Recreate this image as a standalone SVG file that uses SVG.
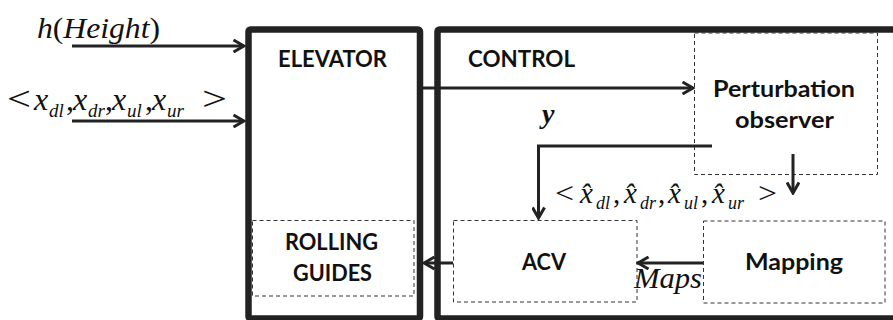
<svg xmlns="http://www.w3.org/2000/svg" width="893" height="320" viewBox="0 0 893 320">
<style>
.box{fill:none;stroke:#222;stroke-width:6.5}
.dash{fill:none;stroke:#333;stroke-width:1;stroke-dasharray:4 3}
.ln{fill:none;stroke:#222;stroke-width:3}
.lbl{font-family:Lato,"Open Sans","Liberation Sans",sans-serif;font-weight:bold;font-size:23px;fill:#111}
.m{font-family:"Liberation Serif","Times New Roman",serif;font-style:italic;fill:#111}
.up{font-style:normal}
</style>
<defs>
<marker id="ah" markerUnits="userSpaceOnUse" viewBox="0 0 14 14" refX="12" refY="7" markerWidth="14" markerHeight="14" orient="auto">
<path d="M1.5,1 L12,7 L1.5,13" fill="none" stroke="#222" stroke-width="3"/>
</marker>
</defs>
<rect width="893" height="320" fill="#fff"/>
<g id="elevator">
<rect class="box" x="248.5" y="29.5" width="171.5" height="289" rx="2"/>
<text class="lbl" x="278" y="67" textLength="109" lengthAdjust="spacingAndGlyphs">ELEVATOR</text>
</g>
<g id="control">
<rect class="box" x="437.5" y="29.5" width="470" height="289" rx="2"/>
<text class="lbl" x="468" y="67" textLength="107" lengthAdjust="spacingAndGlyphs">CONTROL</text>
</g>
<g id="perturbation-observer">
<rect class="dash" x="694.5" y="33" width="183" height="141.5"/>
<text class="lbl" x="713" y="97" textLength="142" lengthAdjust="spacingAndGlyphs">Perturbation</text>
<text class="lbl" x="735" y="128" textLength="99" lengthAdjust="spacingAndGlyphs">observer</text>
</g>
<g id="rolling-guides">
<rect class="dash" x="252.5" y="220.5" width="161.5" height="75.5"/>
<text class="lbl" x="285" y="250" textLength="93" lengthAdjust="spacingAndGlyphs">ROLLING</text>
<text class="lbl" x="293" y="281" textLength="79" lengthAdjust="spacingAndGlyphs">GUIDES</text>
</g>
<g id="acv">
<rect class="dash" x="453.5" y="220.5" width="183.5" height="81.5"/>
<text class="lbl" x="522" y="270" textLength="44" lengthAdjust="spacingAndGlyphs">ACV</text>
</g>
<g id="mapping">
<rect class="dash" x="703.5" y="221" width="181.5" height="82"/>
<text class="lbl" x="745" y="270" textLength="98" lengthAdjust="spacingAndGlyphs">Mapping</text>
</g>
<g id="connectors">
<line class="ln" x1="72" y1="46" x2="244" y2="46" marker-end="url(#ah)"/>
<line class="ln" x1="72" y1="121" x2="244" y2="121" marker-end="url(#ah)"/>
<line class="ln" x1="423" y1="88" x2="693" y2="88" marker-end="url(#ah)"/>
<polyline class="ln" points="712,146 538.5,146 538.5,218" marker-end="url(#ah)"/>
<line class="ln" x1="793" y1="154" x2="793" y2="193" marker-end="url(#ah)"/>
<line class="ln" x1="703" y1="263" x2="638" y2="263" marker-end="url(#ah)"/>
<line class="ln" x1="453" y1="263" x2="424" y2="263" marker-end="url(#ah)"/>
</g>
<g id="labels">
<text class="m" x="37" y="38" font-size="30" textLength="123" lengthAdjust="spacingAndGlyphs">h<tspan class="up">(</tspan>Height<tspan class="up">)</tspan></text>
<g font-size="32">
<text class="m up" x="7" y="110" font-size="34" textLength="24" lengthAdjust="spacingAndGlyphs">&lt;</text>
<text class="m" x="34" y="110">x</text>
<text class="m" x="49" y="117" font-size="19">dl</text>
<text class="m up" x="66" y="110">,</text>
<text class="m" x="73" y="110">x</text>
<text class="m" x="88" y="117" font-size="19">dr</text>
<text class="m up" x="105" y="110">,</text>
<text class="m" x="112" y="110">x</text>
<text class="m" x="127" y="117" font-size="19">ul</text>
<text class="m up" x="145" y="110">,</text>
<text class="m" x="152" y="110">x</text>
<text class="m" x="167" y="117" font-size="19">ur</text>
<text class="m up" x="202" y="110" font-size="34" textLength="25" lengthAdjust="spacingAndGlyphs">&gt;</text>
</g>
<g font-size="29">
<text class="m up" x="555" y="203" font-size="30" textLength="19" lengthAdjust="spacingAndGlyphs">&lt;</text>
<text class="m" x="580" y="203">x̂</text>
<text class="m" x="596" y="209" font-size="18">dl</text>
<text class="m up" x="613" y="203">,</text>
<text class="m" x="624" y="203">x̂</text>
<text class="m" x="640" y="209" font-size="18">dr</text>
<text class="m up" x="658" y="203">,</text>
<text class="m" x="668" y="203">x̂</text>
<text class="m" x="684" y="209" font-size="18">ul</text>
<text class="m up" x="701" y="203">,</text>
<text class="m" x="712" y="203">x̂</text>
<text class="m" x="728" y="209" font-size="18">ur</text>
<text class="m up" x="758" y="203" font-size="30" textLength="19" lengthAdjust="spacingAndGlyphs">&gt;</text>
</g>
<text class="m" x="542" y="123" font-size="28" font-weight="bold">y</text>
<text class="m" x="634" y="288" font-size="30" textLength="68" lengthAdjust="spacingAndGlyphs">Maps</text>
</g>
</svg>
